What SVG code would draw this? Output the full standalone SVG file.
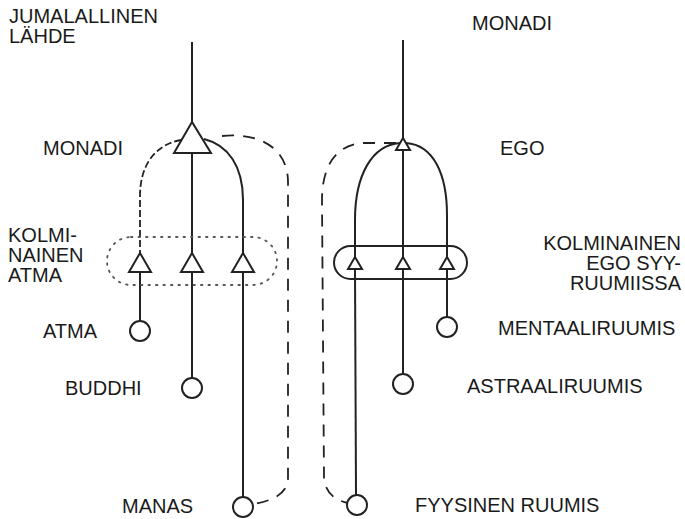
<svg xmlns="http://www.w3.org/2000/svg" width="685" height="519" viewBox="0 0 685 519">
<style>
  text { font-family: "Liberation Sans", Arial, sans-serif; font-size: 20px; fill: #1a1a1a; }
  .ln { fill: none; stroke: #222; stroke-width: 2; }
  .dash { fill: none; stroke: #222; stroke-width: 1.8; stroke-dasharray: 12 9; }
  .arch { fill: none; stroke: #222; stroke-width: 1.8; stroke-dasharray: 7 3; }
  .dot { fill: none; stroke: #555; stroke-width: 1.8; stroke-dasharray: 1.5 6; stroke-linecap: round; }
  .tri { fill: #fff; stroke: #222; stroke-width: 2; stroke-linejoin: miter; }
  .circ { fill: #fff; stroke: #222; stroke-width: 2; }
</style>
<rect width="685" height="519" fill="#fff"/>

<g id="connectors">
  <!-- left structure -->
  <line class="ln" x1="192" y1="42" x2="192" y2="122"/>
  <line class="ln" x1="192" y1="153" x2="192" y2="253"/>
  <line class="ln" x1="192" y1="272" x2="192" y2="378"/>
  <path class="arch" d="M181,140 C158,144 140,162 140,196 L140,253"/>
  <path class="ln" d="M204,139 C228,145 243,166 243,200 L243,253"/>
  <line class="ln" x1="140" y1="272" x2="140" y2="321"/>
  <line class="ln" x1="243" y1="272" x2="243" y2="497"/>
  <path class="dash" d="M222,136 C262,132 288,150 288,182 L288,478 C288,492 276,500 254,504"/>
  <!-- right structure -->
  <line class="ln" x1="403" y1="40" x2="403" y2="138"/>
  <line class="ln" x1="403" y1="150" x2="403" y2="257"/>
  <line class="ln" x1="403" y1="269" x2="403" y2="374"/>
  <path class="ln" d="M400,143 C372,145 355,175 355,220 L355,257"/>
  <path class="ln" d="M406,143 C434,145 447,175 447,215 L447,257"/>
  <line class="ln" x1="355" y1="269" x2="356" y2="495"/>
  <line class="ln" x1="447" y1="269" x2="447" y2="317"/>
  <path class="dash" d="M396,143 L362,143 C336,145 322,166 322,200 L324,478 C325,492 334,500 348,503"/>
</g>

<g id="kolminainen-atma-group">
  <rect class="dot" x="107" y="237" width="170" height="48" rx="24"/>
</g>
<g id="kolminainen-ego-group">
  <rect x="334" y="246" width="133" height="33" rx="16.5" fill="none" stroke="#222" stroke-width="2"/>
</g>

<g id="monadi-left">
  <polygon class="tri" points="192,122 174,153 211,153"/>
</g>
<g id="atma-triad">
  <polygon class="tri" points="140,253 129,272 151,272"/>
  <polygon class="tri" points="192,253 181,272 203,272"/>
  <polygon class="tri" points="243,253 232,272 254,272"/>
</g>
<g id="atma"><circle class="circ" cx="140" cy="331" r="10"/></g>
<g id="buddhi"><circle class="circ" cx="192" cy="388" r="10"/></g>
<g id="manas"><circle class="circ" cx="243" cy="507" r="10"/></g>

<g id="ego">
  <polygon class="tri" points="403,138 396,150 410,150"/>
</g>
<g id="ego-triad">
  <polygon class="tri" points="355,257 348,269 362,269"/>
  <polygon class="tri" points="403,257 396,269 410,269"/>
  <polygon class="tri" points="447,257 440,269 454,269"/>
</g>
<g id="mentaaliruumis"><circle class="circ" cx="447" cy="327" r="10"/></g>
<g id="astraaliruumis"><circle class="circ" cx="403" cy="384" r="10"/></g>
<g id="fyysinen-ruumis"><circle class="circ" cx="357" cy="505" r="10"/></g>

<g id="labels">
  <text x="9" y="23">JUMALALLINEN</text>
  <text x="9" y="43">LÄHDE</text>
  <text x="472" y="30">MONADI</text>
  <text x="43" y="155">MONADI</text>
  <text x="500" y="155">EGO</text>
  <text x="8" y="242">KOLMI-</text>
  <text x="8" y="262">NAINEN</text>
  <text x="8" y="282">ATMA</text>
  <text x="681" y="250" text-anchor="end">KOLMINAINEN</text>
  <text x="681" y="270" text-anchor="end">EGO SYY-</text>
  <text x="681" y="290" text-anchor="end">RUUMIISSA</text>
  <text x="43" y="338">ATMA</text>
  <text x="65" y="395">BUDDHI</text>
  <text x="498" y="335">MENTAALIRUUMIS</text>
  <text x="467" y="393">ASTRAALIRUUMIS</text>
  <text x="122" y="513">MANAS</text>
  <text x="415" y="512">FYYSINEN RUUMIS</text>
</g>
</svg>
